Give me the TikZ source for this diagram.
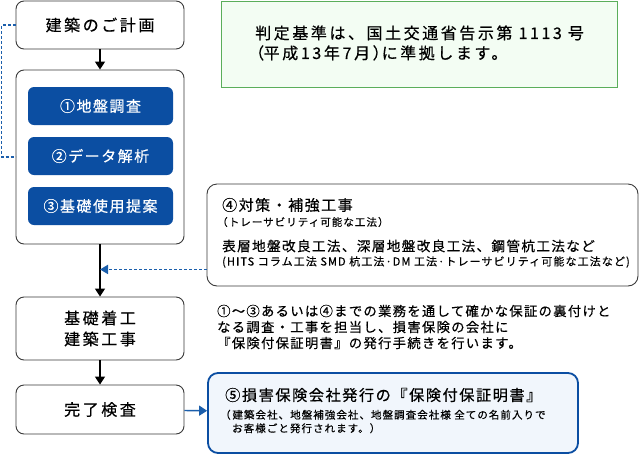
\documentclass[tikz,border=0pt]{standalone}
\usepackage{fontspec}
\setmainfont{Noto Sans CJK JP}[LetterSpace=10, FakeBold=0.5]
\newfontfamily\widejp{Noto Sans CJK JP}[LetterSpace=16, FakeBold=0.5]
\usetikzlibrary{arrows.meta}
\definecolor{deepblue}{HTML}{0B4EA2}
\definecolor{linkblue}{HTML}{1B5EAB}
\definecolor{frame}{HTML}{3A3A3A}
\definecolor{mint}{HTML}{F3FDF3}
\definecolor{leaf}{HTML}{5AAE5A}
\definecolor{paleblue}{HTML}{F1F6FC}

\begin{document}
\begin{tikzpicture}[x=1pt, y=-1pt,
    flowbox/.style={draw=frame, line width=0.9pt, rounded corners=8pt, fill=white,
        minimum width=168pt, inner sep=0pt, align=center,
        font=\widejp\fontsize{16}{21}\selectfont},
    taskbox/.style={fill=deepblue, rounded corners=6pt, minimum width=145pt,
        minimum height=38pt, inner sep=0pt, text=white, font=\fontsize{15}{18}\selectfont},
    flowarrow/.style={-{Triangle[length=8pt,width=10pt]}, line width=1.4pt, black},
    linkdash/.style={dashed, dash pattern=on 3pt off 2pt, line width=1.9pt, linkblue},
    note/.style={anchor=west, inner sep=0pt, align=left}]

    \useasboundingbox (0,0) rectangle (641,456);

    % Draw the flow boxes on the left
    \node[flowbox, minimum height=48pt] (plan) at (100,25) {建築のご計画};
    \node[flowbox, minimum height=174pt] (survey) at (100,157) {};
    \node[flowbox, minimum height=63pt] (build) at (100,328.5) {基礎着工\\建築工事};
    \node[flowbox, minimum height=49pt] (inspect) at (100,409.5) {完了検査};

    % Draw the three tasks inside the survey box
    \node[taskbox] (soil) at (100.5,106) {①地盤調査};
    \node[taskbox] (data) at (100.5,156) {②データ解析};
    \node[taskbox] (plan3) at (100.5,206) {③基礎使用提案};

    % Draw the standard note box
    \node[draw=leaf, line width=0.9pt, fill=mint, minimum width=396pt, minimum height=86pt] (std) at (419,44) {};
    \node[note, font=\widejp\fontsize{16}{20}\selectfont] (stdtext) at (255,43)
        {判定基準は、国土交通省告示第 1113 号\\\kern-7pt（\kern-0.5pt 平成\,13\,年\,7\,月）\kern-7pt に準拠します。};

    % Draw the reinforcement box
    \node[draw=frame, line width=0.9pt, rounded corners=10pt, minimum width=431pt, minimum height=102pt] (measure) at (422.5,235) {};
    \node[note, font=\fontsize{15}{18}\selectfont] (mtitle) at (222,205) {④対策・補強工事};
    \node[note, font=\fontsize{10.5}{13}\selectfont] (msub) at (222,222) {\kern-5pt（トレーサビリティ可能な工法）};
    \node[note, font=\fontsize{13.6}{16}\selectfont] (mlist) at (222,246) {表層地盤改良工法、深層地盤改良工法、鋼管杭工法など};
    \node[note, font=\fontsize{11}{13}\selectfont] (mdetail) at (222,262) {(HITS コラム工法 SMD 杭工法·DM 工法·トレーサビリティ可能な工法など)};

    % Draw the explanation text
    \node[note, font=\fontsize{13.3}{16}\selectfont] (explain) at (217,327)
        {①～③あるいは④までの業務を通して確かな保証の裏付けと\\なる調査・工事を担当し、損害保険の会社に\\『保険付保証明書』の発行手続きを行います。};

    % Draw the certificate box
    \node[draw=deepblue, line width=1.8pt, rounded corners=10pt, fill=paleblue, minimum width=370pt, minimum height=80pt] (cert) at (393,413) {};
    \node[note, font=\fontsize{15.2}{18}\selectfont] (ctitle) at (225,395) {⑤損害保険会社発行の『保険付保証明書』};
    \node[note, font=\fontsize{10.5}{13.5}\selectfont] (cnote) at (225,421.5)
        {\kern-5pt（\,建築会社、地盤補強会社、地盤調査会社様 全ての名前入りで\\\hspace{7pt}お客様ごと発行されます。）};

    % Draw the flow arrows
    \draw[flowarrow] (plan) -- (survey);
    \draw[flowarrow] (survey) -- (build);
    \draw[flowarrow] (build) -- (inspect);
    \draw[flowarrow, linkblue] (inspect) -- (cert);

    % Draw the dashed links
    \draw[linkdash] (plan.west) -- ++(-14,0) |- (survey.west);
    \coordinate (mlink) at ([yshift=17pt]measure.south west);
    \draw[linkdash, -{Triangle[length=8pt,width=9pt]}] (mlink) -- (mlink -| survey.south);

\end{tikzpicture}
\end{document}
